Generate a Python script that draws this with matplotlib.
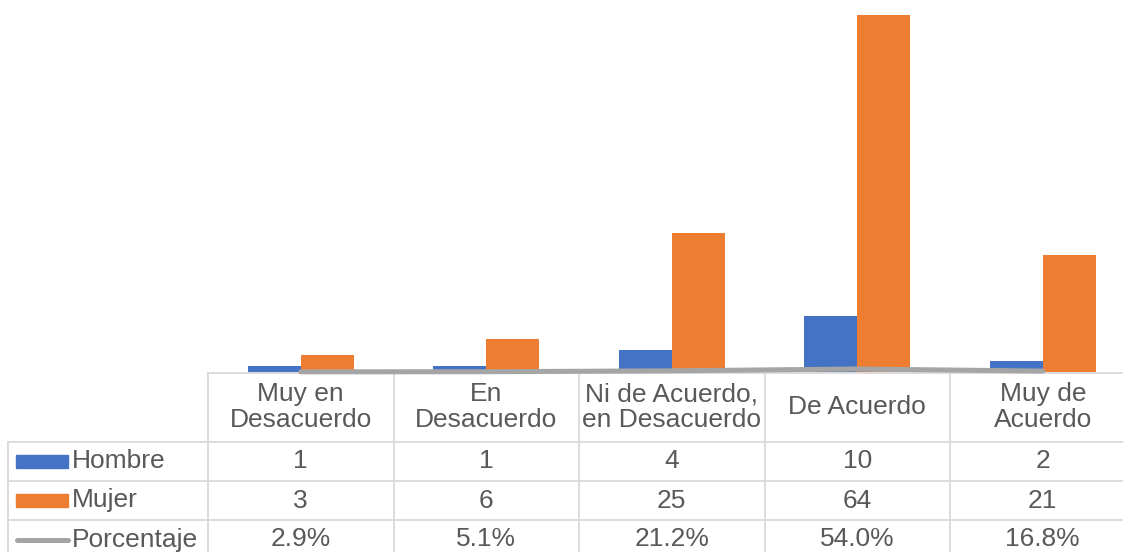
import matplotlib.pyplot as plt
import matplotlib.transforms as mtransforms

# Datos de la tabla
categorias = ['Muy en\nDesacuerdo', 'En\nDesacuerdo', 'Ni de Acuerdo,\nen Desacuerdo',
              'De Acuerdo', 'Muy de\nAcuerdo']
hombre = [1, 1, 4, 10, 2]
mujer = [3, 6, 25, 64, 21]
porcentaje = [0.029, 0.051, 0.212, 0.540, 0.168]
series = ['Hombre', 'Mujer', 'Porcentaje']

azul = '#4472C4'
naranja = '#ED7D31'
gris = '#A5A5A5'
borde = '#D9D9D9'
texto = '#595959'

plt.rcParams['font.family'] = ['Liberation Sans', 'DejaVu Sans']

W, H = 1123, 552
fig = plt.figure(figsize=(W / 100, H / 100), dpi=100)

# area del grafico en pixeles (la ultima columna queda recortada a la derecha)
col_w = 185.5
x0 = 208
base_y = 372
ax = fig.add_axes([x0 / W, 1 - base_y / H, 5 * col_w / W, base_y / H])
ax.set_xlim(-0.5, 4.5)
ax.set_ylim(0, base_y / 5.58)
ax.axis('off')

ancho = 53 / col_w
xs = list(range(len(categorias)))
ax.bar([x - ancho / 2 for x in xs], hombre, ancho, color=azul, zorder=2)
ax.bar([x + ancho / 2 for x in xs], mujer, ancho, color=naranja, zorder=2)
ax.plot(xs, porcentaje, color=gris, lw=3.6, solid_capstyle='round', zorder=3, clip_on=False)

# tabla de datos debajo
tr = mtransforms.blended_transform_factory(ax.transData, fig.transFigure)
def py(y):
    return 1 - y / H

x_izq = -0.5 - (x0 - 8) / col_w
x_der = 4.5
filas = [442, 481, 520, 559]

def linea(xa, xb, ya, yb):
    ax.plot([xa, xb], [py(ya), py(yb)], color=borde, lw=1.3, transform=tr,
            clip_on=False, zorder=1)

linea(-0.5, x_der, base_y + 1, base_y + 1)
for y in filas:
    linea(x_izq, x_der, y, y)
linea(x_izq, x_izq, filas[0], filas[-1])
for i in range(len(categorias) + 1):
    linea(i - 0.5, i - 0.5, base_y + 1, filas[-1])

fs = 19
for i, c in enumerate(categorias):
    ax.text(i, py(407), c, transform=tr, ha='center', va='center', fontsize=fs,
            color=texto, linespacing=1.1)

valores = [hombre, mujer, [f'{p * 100:.1f}%' for p in porcentaje]]
for r, vals in enumerate(valores):
    yc = (filas[r] + filas[r + 1]) / 2
    for i, v in enumerate(vals):
        ax.text(i, py(yc), str(v), transform=tr, ha='center', va='center',
                fontsize=fs, color=texto)

# claves de la leyenda y nombres de serie
for r, nombre in enumerate(series):
    yc = (filas[r] + filas[r + 1]) / 2
    if r < 2:
        fig.patches.append(plt.Rectangle((16 / W, py(yc + 6)), 52 / W, 13 / H,
                                         transform=fig.transFigure,
                                         color=[azul, naranja][r]))
    else:
        fig.add_artist(plt.Line2D([17 / W, 68 / W], [py(yc), py(yc)], color=gris,
                                  lw=3.6, solid_capstyle='round'))
    fig.text(72 / W, py(yc), nombre, ha='left', va='center', fontsize=fs, color=texto)

fig.savefig('out.png', dpi=100)
